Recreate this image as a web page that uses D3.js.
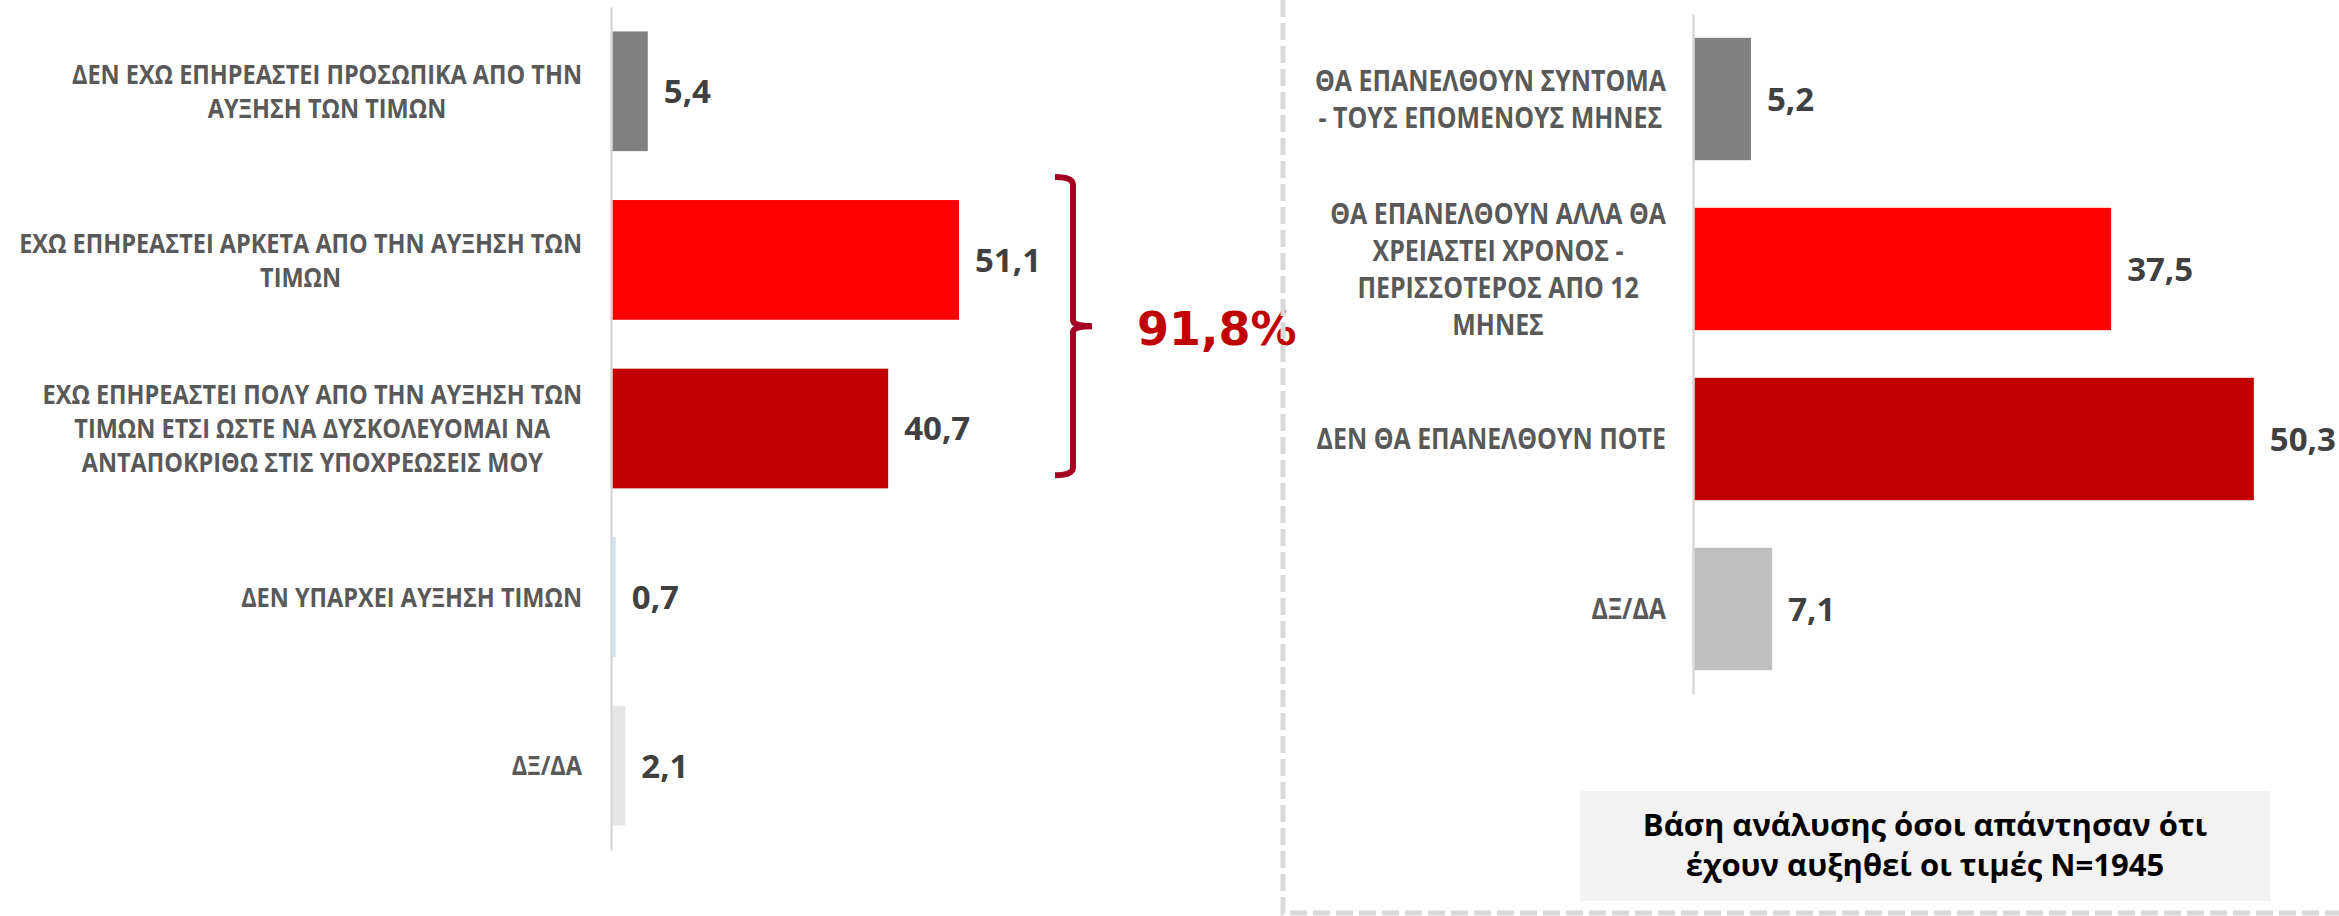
<!DOCTYPE html>
<html>
<head>
<meta charset="utf-8">
<script src="https://cdn.jsdelivr.net/npm/d3@7"></script>
<style>
  html, body { margin: 0; padding: 0; background: #fff; }
  svg { display: block; }
</style>
</head>
<body>
<svg id="chart"></svg>
<script>
// left chart: effect of price rises
const leftCats = [
  ["ΔΕΝ ΕΧΩ ΕΠΗΡΕΑΣΤΕΙ ΠΡΟΣΩΠΙΚΑ ΑΠΟ ΤΗΝ", "ΑΥΞΗΣΗ ΤΩΝ ΤΙΜΩΝ"],
  ["ΕΧΩ ΕΠΗΡΕΑΣΤΕΙ ΑΡΚΕΤΑ ΑΠΟ ΤΗΝ ΑΥΞΗΣΗ ΤΩΝ", "ΤΙΜΩΝ"],
  ["ΕΧΩ ΕΠΗΡΕΑΣΤΕΙ ΠΟΛΥ ΑΠΟ ΤΗΝ ΑΥΞΗΣΗ ΤΩΝ", "ΤΙΜΩΝ ΕΤΣΙ ΩΣΤΕ ΝΑ ΔΥΣΚΟΛΕΥΟΜΑΙ ΝΑ", "ΑΝΤΑΠΟΚΡΙΘΩ ΣΤΙΣ ΥΠΟΧΡΕΩΣΕΙΣ ΜΟΥ"],
  ["ΔΕΝ ΥΠΑΡΧΕΙ ΑΥΞΗΣΗ ΤΙΜΩΝ"],
  ["ΔΞ/ΔΑ"]
];
const leftValues = [5.4, 51.1, 40.7, 0.7, 2.1];
const leftColors = ["#808080", "#ff0000", "#c00000", "#cfe5fa", "#e6e6e6"];

// right chart: will prices come back down
const rightCats = [
  ["ΘΑ ΕΠΑΝΕΛΘΟΥΝ ΣΥΝΤΟΜΑ", "- ΤΟΥΣ ΕΠΟΜΕΝΟΥΣ ΜΗΝΕΣ"],
  ["ΘΑ ΕΠΑΝΕΛΘΟΥΝ ΑΛΛΑ ΘΑ", "ΧΡΕΙΑΣΤΕΙ ΧΡΟΝΟΣ -", "ΠΕΡΙΣΣΟΤΕΡΟΣ ΑΠΟ 12", "ΜΗΝΕΣ"],
  ["ΔΕΝ ΘΑ ΕΠΑΝΕΛΘΟΥΝ ΠΟΤΕ"],
  ["ΔΞ/ΔΑ"]
];
const rightValues = [5.2, 37.5, 50.3, 7.1];
const rightColors = ["#808080", "#ff0000", "#c00000", "#bfbfbf"];

const noteLines = ["Βάση ανάλυσης όσοι απάντησαν ότι", "έχουν αυξηθεί οι τιμές Ν=1945"];

const W = 2339, H = 916;
const svg = d3.select("#chart").attr("width", W).attr("height", H);
const fmt = v => d3.format(".1f")(v).replace(".", ",");
const FONT = "'Open Sans', 'Noto Sans', sans-serif";

function drawPanel(o) {
  const keys = o.cats.map((d, i) => i);
  const x = d3.scaleLinear().domain([0, 100]).range([o.x0, o.x0 + o.pxPer100]);
  const y = d3.scaleBand().domain(keys).range(o.yRange).paddingInner(o.pad).paddingOuter(o.pad / 2);
  const g = svg.append("g");

  g.selectAll("rect.bar")
    .data(o.values)
    .enter()
    .append("rect")
    .attr("class", "bar")
    .attr("x", x(0))
    .attr("y", (d, i) => y(i))
    .attr("width", d => x(d) - x(0))
    .attr("height", y.bandwidth())
    .attr("fill", (d, i) => o.colors[i]);

  // axis line
  const ax = g.append("g")
    .attr("transform", "translate(" + x(0) + ",0)")
    .call(d3.axisLeft(y).tickSize(0).tickFormat(""));
  ax.select(".domain").attr("stroke", "#d9d9d9").attr("stroke-width", 2.5);

  // values
  g.selectAll("text.val")
    .data(o.values)
    .enter()
    .append("text")
    .attr("class", "val")
    .attr("x", d => x(d) + 16)
    .attr("y", (d, i) => y(i) + y.bandwidth() / 2)
    .attr("dy", "0.36em")
    .style("font-family", FONT)
    .attr("font-size", 33)
    .attr("font-weight", 700)
    .attr("fill", "#404040")
    .text(fmt);

  // category labels: lines centred to each other, block right-aligned,
  // squeezed a little to mimic the narrow original face
  o.cats.forEach((lines, i) => {
    const t = g.append("text")
      .attr("transform", "translate(" + (x(0) - o.labelGap) + ",0) scale(" + o.squeeze + ",1)")
      .style("font-family", FONT)
      .attr("font-size", o.labelSize)
      .attr("font-weight", 700)
      .attr("fill", "#595959")
      .attr("text-anchor", "middle");
    const cy = y(i) + y.bandwidth() / 2;
    const spans = lines.map((ln, j) => t.append("tspan")
      .attr("y", cy + (j - (lines.length - 1) / 2) * o.lineH)
      .attr("dy", "0.36em")
      .text(ln));
    const maxW = d3.max(spans, s => s.node().getComputedTextLength());
    spans.forEach(s => s.attr("x", -maxW / 2));
  });

  return { x, y };
}

const L = drawPanel({
  cats: leftCats, values: leftValues, colors: leftColors,
  x0: 611, pxPer100: 681, yRange: [7, 850], pad: 0.29,
  labelSize: 27, lineH: 34, labelGap: 29, squeeze: 0.87
});

const R = drawPanel({
  cats: rightCats, values: rightValues, colors: rightColors,
  x0: 1693, pxPer100: 1115, yRange: [14, 694], pad: 0.28,
  labelSize: 28, lineH: 37, labelGap: 27, squeeze: 0.89
});

// bracket around the two "affected" bars
const brTop = L.y(1) - 23;
const brBot = L.y(2) + L.y.bandwidth() - 13;
const brMid = (brTop + brBot) / 2;
const bx = 1073;
const br = d3.path();
br.moveTo(bx - 18, brTop);
br.quadraticCurveTo(bx, brTop, bx, brTop + 8);
br.lineTo(bx, brMid - 6);
br.quadraticCurveTo(bx, brMid, bx + 19, brMid);
br.quadraticCurveTo(bx, brMid, bx, brMid + 6);
br.lineTo(bx, brBot - 8);
br.quadraticCurveTo(bx, brBot, bx - 18, brBot);
svg.append("path")
  .attr("d", br.toString())
  .attr("fill", "none")
  .attr("stroke", "#a50021")
  .attr("stroke-width", 6);

svg.append("text")
  .attr("x", 1137)
  .attr("y", brMid + 2)
  .attr("dy", "0.36em")
  .style("font-family", "'DejaVu Sans', Verdana, sans-serif")
  .attr("font-size", 46)
  .attr("font-weight", 700)
  .attr("fill", "#c00000")
  .text(fmt(leftValues[1] + leftValues[2]) + "%");

// dashed frame of right panel
svg.append("path")
  .attr("d", "M1283,0 V913 H" + W)
  .attr("fill", "none")
  .attr("stroke", "#d9d9d9")
  .attr("stroke-width", 5)
  .attr("stroke-dasharray", "17,6");

// base note
svg.append("rect")
  .attr("x", 1580).attr("y", 791)
  .attr("width", 690).attr("height", 110)
  .attr("fill", "#f2f2f2");
const note = svg.append("text")
  .attr("text-anchor", "middle")
  .style("font-family", FONT)
  .attr("font-size", 31)
  .attr("font-weight", 700)
  .attr("fill", "#000");
noteLines.forEach((ln, j) => note.append("tspan")
  .attr("x", 1925)
  .attr("y", 836 + j * 40)
  .text(ln));
</script>
</body>
</html>
